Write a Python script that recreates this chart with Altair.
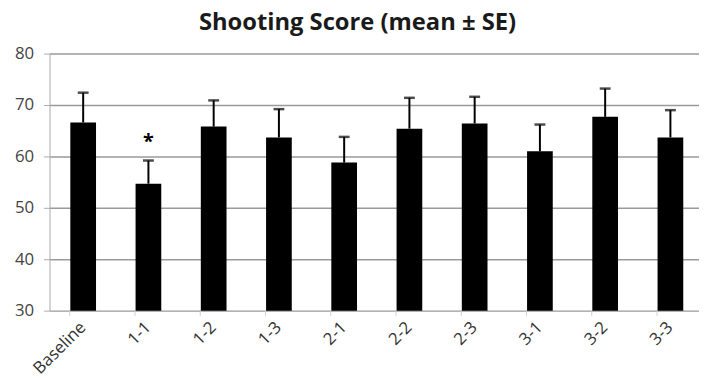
import altair as alt
import pandas as pd

categories = ["Baseline", "1-1", "1-2", "1-3", "2-1", "2-2", "2-3", "3-1", "3-2", "3-3"]
means = [66.6, 54.7, 65.8, 63.7, 58.8, 65.4, 66.4, 61.0, 67.7, 63.7]
se_tops = [72.4, 59.2, 70.9, 69.2, 63.8, 71.4, 71.6, 66.2, 73.2, 69.0]
star_cat = ["1-1"]
star_y = [63.6]

df = pd.DataFrame({"cat": categories, "mean": means, "top": se_tops})
star_df = pd.DataFrame({"cat": star_cat, "y": star_y, "t": ["*"]})

FONT = "Open Sans"

x_enc = alt.X("cat:N", sort=categories,
              scale=alt.Scale(paddingInner=0.6, paddingOuter=0.277, align=0.57),
              axis=alt.Axis(title=None, labelAngle=-45, labelAlign="right",
                            labelBaseline="middle", labelFontSize=17,
                            labelColor="#333333", labelFont=FONT, labelPadding=9,
                            domain=False, ticks=True, tickColor="#d0d0d0",
                            tickSize=5, bandPosition=0, grid=False))
y_scale = alt.Scale(domain=[30, 80], nice=False, zero=False)

bars = alt.Chart(df).mark_bar(color="black", size=26).encode(
    x=x_enc,
    y=alt.Y("mean:Q", scale=y_scale,
            axis=alt.Axis(title=None, values=[30, 40, 50, 60, 70, 80],
                          labelFontSize=17, labelColor="#444444", labelFont=FONT,
                          gridColor="#9a9a9a", gridWidth=1.5, domainColor="#aaaaaa",
                          tickColor="#aaaaaa", tickSize=6, labelPadding=10)),
    y2=alt.Y2(datum=30),
)

err = alt.Chart(df).mark_rule(color="black", strokeWidth=2).encode(
    x=alt.X("cat:N", sort=categories),
    y=alt.Y("mean:Q"),
    y2="top:Q",
)

caps = alt.Chart(df).mark_tick(color="black", thickness=2.5, size=11).encode(
    x=alt.X("cat:N", sort=categories),
    y=alt.Y("top:Q"),
)

star = alt.Chart(star_df).mark_text(fontSize=20, fontWeight="bold", font=FONT,
                                    baseline="middle", dy=4, color="black").encode(
    x=alt.X("cat:N", sort=categories),
    y=alt.Y("y:Q"),
    text="t:N",
)

chart = alt.layer(bars, err, caps, star).properties(
    width=657, height=260,
    title=alt.TitleParams("Shooting Score (mean ± SE)", fontSize=24, font=FONT,
                          fontWeight="bold", color="#1a1a1a", anchor="middle",
                          dx=-17, offset=10),
    autosize=alt.AutoSizeParams(type="none"),
    padding={"left": 42, "top": 44, "right": 0, "bottom": 66},
).configure_view(stroke=None).configure_axis(gridOpacity=1)

chart.save("out.html", embed_options={"renderer": "svg", "actions": False})
